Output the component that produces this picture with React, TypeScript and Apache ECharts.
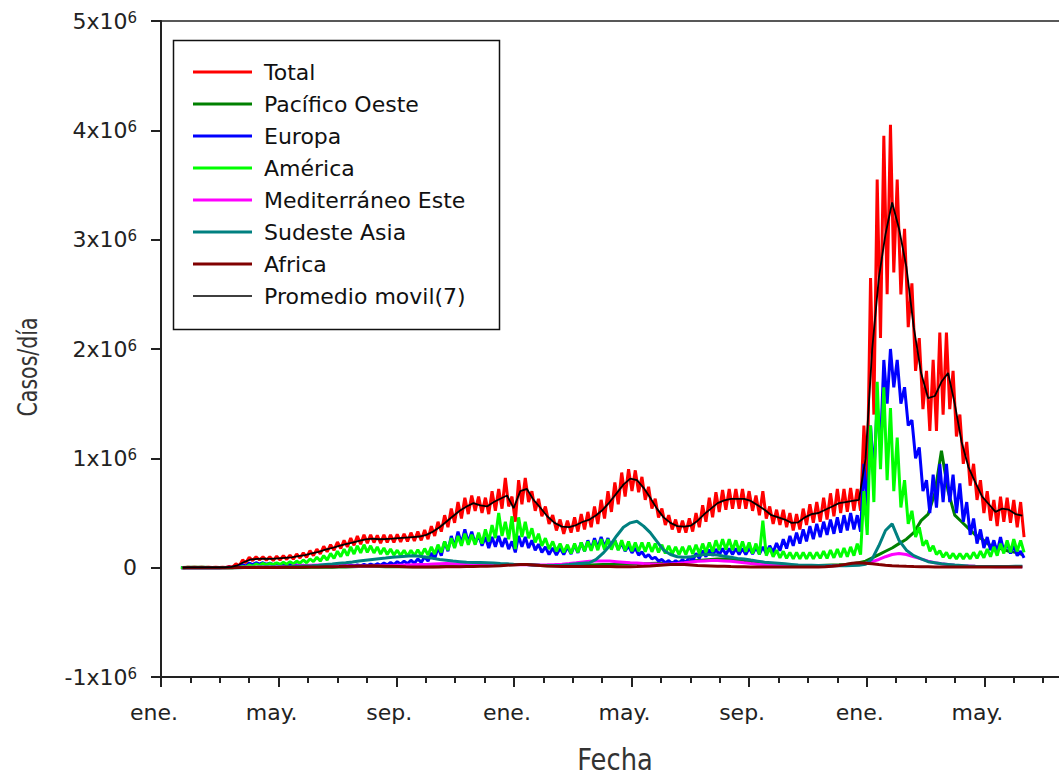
import React, { useEffect, useRef } from "react";
import * as echarts from "echarts";

// ---- data (values in thousands of cases/day), one entry per week starting 2020-01-22 ----
const START_DAY = 21; // day offset of 2020-01-22 from 2020-01-01
const MONTH_LABELS: Record<number, string> = { 0: "ene.", 4: "may.", 8: "sep." };
const SERIES_NAMES = [
  "Total",
  "Pacífico Oeste",
  "Europa",
  "América",
  "Mediterráneo Este",
  "Sudeste Asia",
  "Africa",
  "Promedio movil(7)",
];
const SERIES_COLORS = ["#ff0000", "#008000", "#0000ff", "#00ff00", "#ff00ff", "#008080", "#800000", "#000000"];

const TOTAL_HI = [2,4,5,5,4,3,4,12,35,70,
95,100,100,100,105,110,115,125,135,155,
170,195,210,235,250,270,290,300,300,295,
300,300,305,310,320,330,345,380,420,480,
540,600,640,660,650,640,700,720,820,650,
800,820,700,630,560,480,440,430,460,490,
510,560,620,700,780,870,900,890,830,740,
630,540,480,440,430,450,500,570,640,690,
710,720,720,720,700,660,700,560,530,530,
500,490,540,580,600,640,680,720,720,730,
720,1300,2650,3550,3950,4050,3550,3100,2600,2100,
1800,1900,2150,2150,1800,1400,1150,950,800,700,
620,650,640,620,600];
const TOTAL_LO = [0,1,2,2,2,1,2,5,15,45,
65,70,68,65,70,75,78,88,95,110,
125,145,160,175,190,205,215,225,230,225,
230,230,235,240,245,250,260,290,330,370,
410,450,490,520,500,490,520,540,560,420,
580,600,520,470,400,340,310,320,330,350,
370,400,450,510,580,650,700,690,620,540,
460,390,350,320,320,330,370,420,460,510,
530,540,540,540,520,480,450,400,390,370,
340,350,390,410,420,440,470,500,510,520,
520,750,1400,2100,2500,2700,2500,2200,1800,1450,
1250,1250,1400,1450,1200,950,750,620,500,430,
380,420,410,370,280];
const MOVING_AVG = [0,2,3,3,3,2,3,8,22,52,
75,80,82,80,85,90,95,105,115,130,
145,165,180,200,215,230,245,258,265,260,
262,265,270,275,280,285,300,330,370,420,
470,520,560,590,570,560,600,630,660,545,
700,720,620,550,470,410,375,370,390,420,
440,480,530,600,680,760,815,800,730,640,
540,460,410,380,375,385,430,490,540,590,
615,630,630,630,610,570,530,480,460,440,
410,415,460,490,500,530,560,590,600,610,
620,1000,2000,2650,3050,3340,3100,2750,2200,1780,
1550,1570,1700,1780,1500,1150,920,780,650,580,
510,540,530,490,475];
const EUROPA_HI = [0,0,0,0,1,1,2,4,12,28,
42,45,45,42,40,35,30,26,22,20,
20,20,21,22,22,24,26,30,33,36,
42,48,55,60,68,80,100,135,185,240,
290,330,350,330,300,280,280,290,270,240,
290,280,250,215,190,180,180,190,210,230,
250,270,280,270,250,225,200,180,145,120,
95,75,65,65,75,100,130,155,165,170,
175,175,175,175,180,185,190,200,225,260,
290,320,350,380,400,420,440,460,480,500,
480,950,1300,1500,1900,2000,1900,1650,1350,1100,
800,850,950,950,850,770,600,450,350,280,
250,280,230,200,150];
const EUROPA_LO = [0,0,0,0,0,0,1,1,5,15,
28,32,30,28,25,22,18,16,14,12,
12,13,14,14,14,15,17,18,20,22,
25,28,32,36,40,48,60,80,110,150,
190,220,230,220,200,180,190,190,170,140,
190,180,160,140,120,115,120,125,135,150,
165,180,190,180,165,150,135,115,95,80,
60,45,38,40,45,60,85,100,110,115,
120,120,120,120,125,125,130,140,155,175,
200,220,240,260,280,300,310,320,340,350,
330,550,850,1100,1500,1650,1500,1300,1000,700,
500,550,600,600,500,420,300,220,180,160,
140,150,130,110,90];
const AMERICA_HI = [0,0,0,0,0,0,0,0,3,12,
25,35,40,40,45,50,55,60,70,80,
95,110,130,150,170,190,200,210,200,190,
180,170,160,160,160,165,175,190,210,240,
270,290,310,300,320,350,390,500,420,470,
460,420,360,310,270,240,220,210,220,230,
240,250,260,260,250,250,240,230,230,230,
220,210,200,190,190,200,210,220,230,250,
260,260,250,240,230,220,430,180,160,150,
140,140,140,140,140,150,160,170,180,190,
220,700,1300,1700,1650,1460,1190,800,520,370,
250,200,155,140,130,130,130,140,150,170,
190,220,250,260,250];
const AMERICA_LO = [0,0,0,0,0,0,0,0,1,5,
12,20,25,28,30,32,35,40,45,55,
60,70,85,100,110,125,135,140,135,125,
120,115,110,105,110,110,115,125,140,160,
180,200,210,210,220,240,270,290,260,170,
280,270,230,200,170,150,140,130,140,150,
155,160,165,165,160,155,150,150,145,145,
140,130,125,120,120,125,130,140,145,160,
165,160,150,145,130,120,110,100,90,85,
80,80,80,80,85,85,90,95,100,110,
120,300,600,900,800,700,550,400,280,200,
150,120,95,85,80,80,80,85,90,100,
110,130,140,150,140];
const PACIFICO = [1,3,4,3,2,1,1,1,1,1,
2,3,3,3,2,2,2,2,2,3,
3,3,4,5,7,9,10,11,11,10,
9,8,8,8,8,8,8,9,10,12,
14,16,18,20,22,25,27,28,30,30,
30,28,24,20,18,17,17,18,20,22,
24,26,28,30,32,33,34,35,36,38,
40,42,45,50,55,60,65,70,75,80,
80,78,72,65,55,45,38,32,28,25,
22,20,20,20,20,22,24,26,30,35,
45,60,90,120,150,180,220,260,320,430,
490,680,1070,700,480,420,360,300,260,210,
190,170,150,140,120];
const SUDESTE = [0,0,0,0,0,0,0,0,0,1,
2,3,5,6,7,8,10,12,15,18,
22,28,33,40,45,52,60,68,75,82,
88,95,100,105,108,105,95,85,75,68,
60,55,50,48,47,45,42,38,35,32,
30,28,25,22,20,20,22,28,35,40,
45,75,130,200,290,370,410,425,380,320,
240,160,120,100,95,100,110,120,120,115,
105,95,85,80,70,60,50,45,40,35,
30,25,22,22,20,20,18,18,18,20,
22,30,80,200,340,400,250,160,110,80,
55,45,35,30,25,20,15,12,10,10,
10,10,10,12,12];
const MEDITERRANEO = [0,0,0,0,0,0,0,1,2,3,
4,5,6,7,8,10,13,17,20,22,
24,22,20,19,18,16,15,15,16,17,
18,20,22,24,26,28,30,34,36,38,
36,32,28,25,24,23,25,27,28,28,
27,26,25,25,26,28,32,38,45,52,
58,62,62,60,55,50,45,42,38,35,
33,32,33,38,45,52,58,62,65,65,
62,58,52,45,38,32,28,25,22,20,
18,17,16,16,16,17,18,20,22,25,
30,40,55,75,100,120,130,120,100,80,
60,45,35,28,22,18,15,12,10,10,
9,8,8,8,8];
const AFRICA = [0,0,0,0,0,0,0,0,0.5,1,
1,1,1.5,2,2.5,3,3.5,4,5,6,
7,8,9,10,12,14,15,16,17,16,
14,12,10,8,7,6,6,6,7,8,
8,9,10,11,12,13,15,18,22,25,
30,30,25,20,15,12,10,10,10,10,
10,10,10,10,9,9,9,10,12,15,
20,25,28,30,28,24,20,18,16,14,
12,10,9,8,7,6,6,5,5,5,
5,5,5,5,6,8,12,20,30,40,
45,40,35,28,22,18,15,12,10,9,
8,7,7,6,6,6,6,6,6,6,
5,5,5,5,5];

const FONT = "DejaVu Sans";

// convert a (fractional) day offset from 2020-01-01 into a month-unit x coordinate
function dayToMonth(d: number): number {
  const whole = Math.floor(d);
  const frac = d - whole;
  const dt = new Date(Date.UTC(2020, 0, 1 + whole));
  const y = dt.getUTCFullYear();
  const m = dt.getUTCMonth();
  const day = dt.getUTCDate();
  const dim = new Date(Date.UTC(y, m + 1, 0)).getUTCDate();
  return (y - 2020) * 12 + m + (day - 1 + frac) / dim;
}

function zig(hi: number[], lo: number[]) {
  const out: number[][] = [];
  hi.forEach((h, w) => {
    out.push([dayToMonth(START_DAY + 7 * w), h * 1000]);
    out.push([dayToMonth(START_DAY + 7 * w + 3.5), lo[w] * 1000]);
  });
  return out;
}

function weekly(v: number[], offset = 0) {
  return v.map((x, w) => [dayToMonth(START_DAY + 7 * w + offset), x * 1000]);
}

export default function App() {
  const ref = useRef<HTMLDivElement>(null);

  useEffect(() => {
    if (!ref.current) return;
    const chart = echarts.init(ref.current, undefined, { renderer: "svg" });

    const seriesData = [
      zig(TOTAL_HI, TOTAL_LO),
      weekly(PACIFICO, 1.75),
      zig(EUROPA_HI, EUROPA_LO),
      zig(AMERICA_HI, AMERICA_LO),
      weekly(MEDITERRANEO, 1.75),
      weekly(SUDESTE, 1.75),
      weekly(AFRICA, 1.75),
      weekly(MOVING_AVG, 1.75),
    ];

    const series = SERIES_NAMES.map((name, i) => ({
      name,
      type: "line",
      data: seriesData[i],
      symbol: "none",
      showSymbol: false,
      silent: true,
      smooth: false,
      lineStyle: {
        color: SERIES_COLORS[i],
        width: i === 7 ? 1.8 : 3,
        join: "bevel",
      },
      itemStyle: { color: SERIES_COLORS[i] },
      emphasis: { disabled: true },
    }));

    chart.setOption({
      animation: false,
      backgroundColor: "#ffffff",
      textStyle: { fontFamily: FONT },
      grid: {
        left: 161,
        top: 21,
        right: -43,
        bottom: 104,
        outerBoundsMode: "none",
        containLabel: false,
        show: true,
        borderColor: "#222",
        borderWidth: 1.5,
        backgroundColor: "transparent",
      },
      xAxis: {
        type: "value",
        min: 0,
        max: 32,
        interval: 4,
        axisLine: { show: true, onZero: false, lineStyle: { color: "#222", width: 2 } },
        axisTick: { show: true, length: 10, lineStyle: { color: "#222", width: 2 } },
        minorTick: { show: true, splitNumber: 4, length: 6, lineStyle: { color: "#222", width: 2 } },
        splitLine: { show: false },
        minorSplitLine: { show: false },
        axisLabel: {
          fontSize: 22,
          fontFamily: FONT,
          color: "#222",
          margin: 24,
          padding: [0, 14, 0, 0],
          hideOverlap: false,
          formatter: (v: number) => {
            if (v > 30) return "";
            const k = Math.round(v) % 12;
            return MONTH_LABELS[k] ?? "";
          },
        },
      },
      yAxis: {
        type: "value",
        min: -1000000,
        max: 5000000,
        interval: 1000000,
        axisLine: { show: true, onZero: false, lineStyle: { color: "#222", width: 2 } },
        axisTick: { show: true, length: 10, lineStyle: { color: "#222", width: 2 } },
        splitLine: { show: false },
        axisLabel: {
          margin: 24,
          color: "#222",
          fontFamily: FONT,
          fontSize: 22,
          formatter: (v: number) => {
            if (v === 0) return "{m|0}";
            const n = Math.round(v / 1000000);
            return `{m|${n}x10}{s|6}`;
          },
          rich: {
            m: { fontSize: 22, fontFamily: FONT, color: "#222", lineHeight: 22 },
            s: { fontSize: 15, fontFamily: FONT, color: "#222", lineHeight: 15, verticalAlign: "top" },
          },
        },
      },
      legend: {
        show: true,
        orient: "vertical",
        left: 193,
        top: 56,
        padding: 0,
        itemGap: 0,
        itemWidth: 59,
        itemHeight: 3,
        icon: "rect",
        selectedMode: false,
        textStyle: {
          fontSize: 22,
          fontFamily: FONT,
          color: "#111",
          lineHeight: 32,
          padding: [0, 0, 0, 7],
        },
        data: SERIES_NAMES.map((name, i) =>
          i === 7
            ? { name, icon: "path://M0,0H59V0.01H0Z M0,0.8H59V2.2H0Z M0,2.99H59V3H0Z" }
            : { name }
        ),
      },
      graphic: [
        {
          type: "rect",
          shape: { x: 173.5, y: 40.5, width: 326, height: 289 },
          style: { fill: "none", stroke: "#111", lineWidth: 1.5 },
          silent: true,
        },
        {
          type: "text",
          x: 28,
          y: 367,
          rotation: Math.PI / 2,
          scaleX: 0.76,
          style: {
            text: "Casos/día",
            font: `27px "${FONT}"`,
            fill: "#333",
            textAlign: "center",
            textVerticalAlign: "middle",
          },
          silent: true,
        },
        {
          type: "text",
          x: 615,
          y: 760,
          scaleX: 0.86,
          style: {
            text: "Fecha",
            font: `30px "${FONT}"`,
            fill: "#333",
            textAlign: "center",
            textVerticalAlign: "middle",
          },
          silent: true,
        },
      ],
      series,
    });

    return () => {
      chart.dispose();
    };
  }, []);

  return (
    <div
      ref={ref}
      style={{ position: "fixed", left: 0, top: 0, width: 1059, height: 781, background: "#fff" }}
    />
  );
}
